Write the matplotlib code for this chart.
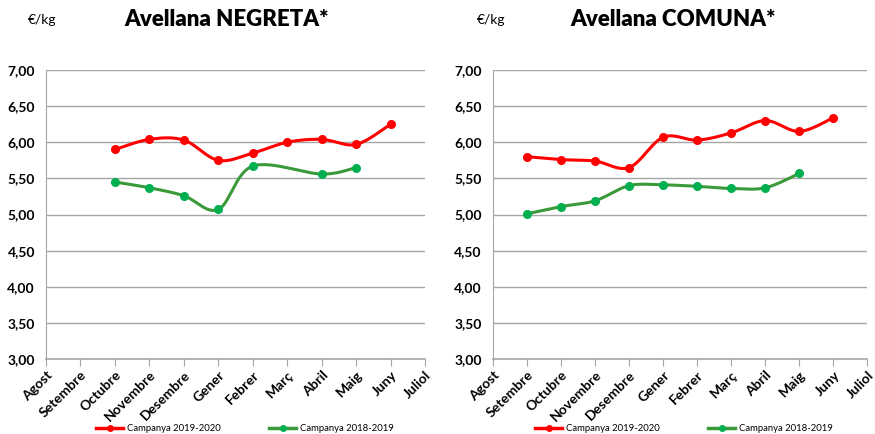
"""
Avellana NEGRETA / COMUNA price charts, campanya 2019-2020 vs 2018-2019.
"""

import numpy as np
import matplotlib
matplotlib.use('Agg')
import matplotlib.pyplot as plt

plt.rcParams['font.family'] = ['Lato', 'DejaVu Sans']

months = ['Agost', 'Setembre', 'Octubre', 'Novembre', 'Desembre', 'Gener',
          'Febrer', 'Març', 'Abril', 'Maig', 'Juny', 'Juliol']

nan = np.nan
# Avellana NEGRETA
negreta_1920 = [nan, nan, 5.90, 6.04, 6.03, 5.75, 5.85, 6.00, 6.04, 5.97, 6.25, nan]
negreta_1819 = [nan, nan, 5.45, 5.37, 5.26, 5.07, 5.67, nan, 5.56, 5.65, nan, nan]
# Avellana COMUNA
comuna_1920 = [nan, 5.80, 5.76, 5.74, 5.65, 6.07, 6.03, 6.13, 6.30, 6.15, 6.34, nan]
comuna_1819 = [nan, 5.01, 5.11, 5.19, 5.40, 5.41, 5.39, 5.36, 5.37, 5.57, nan, nan]

yticks = [3.0, 3.5, 4.0, 4.5, 5.0, 5.5, 6.0, 6.5, 7.0]

RED = '#ff0000'
GREEN_LINE = '#3a9a3a'
GREEN_MARK = '#00b050'
GRID = '#a6a6a6'


def smooth(xs, ys, n=30):
    """Catmull-Rom style smoothing (like Excel smoothed lines)."""
    xs = np.asarray(xs, float)
    ys = np.asarray(ys, float)
    px, py = [], []
    for i in range(len(xs) - 1):
        x0, y0 = (xs[i - 1], ys[i - 1]) if i > 0 else (xs[i], ys[i])
        x3, y3 = (xs[i + 2], ys[i + 2]) if i + 2 < len(xs) else (xs[i + 1], ys[i + 1])
        x1, y1, x2, y2 = xs[i], ys[i], xs[i + 1], ys[i + 1]
        c1x, c1y = x1 + (x2 - x0) / 6, y1 + (y2 - y0) / 6
        c2x, c2y = x2 - (x3 - x1) / 6, y2 - (y3 - y1) / 6
        t = np.linspace(0, 1, n)
        a, b, c, d = (1 - t) ** 3, 3 * (1 - t) ** 2 * t, 3 * (1 - t) * t ** 2, t ** 3
        px.extend(a * x1 + b * c1x + c * c2x + d * x2)
        py.extend(a * y1 + b * c1y + c * c2y + d * y2)
    return px, py


def draw_series(ax, values, line_color, marker_color, label):
    x = np.arange(len(values))
    v = np.asarray(values, float)
    ok = ~np.isnan(v)
    sx, sy = smooth(x[ok], v[ok])
    ax.plot(sx, sy, color=line_color, lw=2.2, solid_capstyle='round', zorder=3)
    ax.plot(x[ok], v[ok], 'o', color=marker_color, ms=5.5, zorder=4)
    # legend proxy
    ax.plot([], [], color=line_color, lw=2.5, marker='o', ms=4,
            mfc=marker_color, mec=marker_color, label=label)


def style_axes(ax):
    ax.set_xlim(0, len(months) - 1)
    ax.set_ylim(3.0, 7.0)
    ax.set_yticks(yticks)
    ax.set_yticklabels([f'{t:.2f}'.replace('.', ',') for t in yticks],
                       fontsize=10, fontweight='bold')
    ax.set_xticks(np.arange(len(months)))
    ax.set_xticklabels(months, rotation=45, ha='right', rotation_mode='anchor',
                       fontsize=10, fontweight='bold')
    ax.yaxis.grid(True, color=GRID, lw=1)
    ax.set_axisbelow(True)
    for s in ['top', 'right']:
        ax.spines[s].set_visible(False)
    ax.spines['left'].set_color(GRID)
    ax.spines['bottom'].set_color(GRID)
    ax.spines['bottom'].set_linewidth(1.2)
    ax.tick_params(axis='y', length=0, pad=8)
    ax.tick_params(axis='x', length=5, color=GRID, pad=2, direction='out')


fig = plt.figure(figsize=(8.75, 4.34), dpi=100)
ax1 = fig.add_axes([0.0526, 0.1728, 0.4331, 0.6659])
ax2 = fig.add_axes([0.5634, 0.1728, 0.4280, 0.6659])

for ax, s1, s2, lx in [(ax1, negreta_1920, negreta_1819, 0.525),
                       (ax2, comuna_1920, comuna_1819, 0.51)]:
    style_axes(ax)
    draw_series(ax, s1, RED, RED, 'Campanya 2019-2020')
    draw_series(ax, s2, GREEN_LINE, GREEN_MARK, 'Campanya 2018-2019')
    ax.legend(loc='center', bbox_to_anchor=(lx, -0.24), ncol=2, frameon=False,
              fontsize=6.8, handlelength=2.8, columnspacing=5.2, handletextpad=0.4)

fig.text(227 / 875, 1 - 20 / 434, 'Avellana NEGRETA*', ha='center', va='center',
         fontsize=16, fontweight='heavy')
fig.text(42 / 875, 1 - 20 / 434, '€/kg', ha='center', va='center', fontsize=10)
fig.text(673 / 875, 1 - 20 / 434, 'Avellana COMUNA*', ha='center', va='center',
         fontsize=16, fontweight='heavy')
fig.text(491 / 875, 1 - 20 / 434, '€/kg', ha='center', va='center', fontsize=10)

plt.savefig('out.png', dpi=100)
plt.close()
